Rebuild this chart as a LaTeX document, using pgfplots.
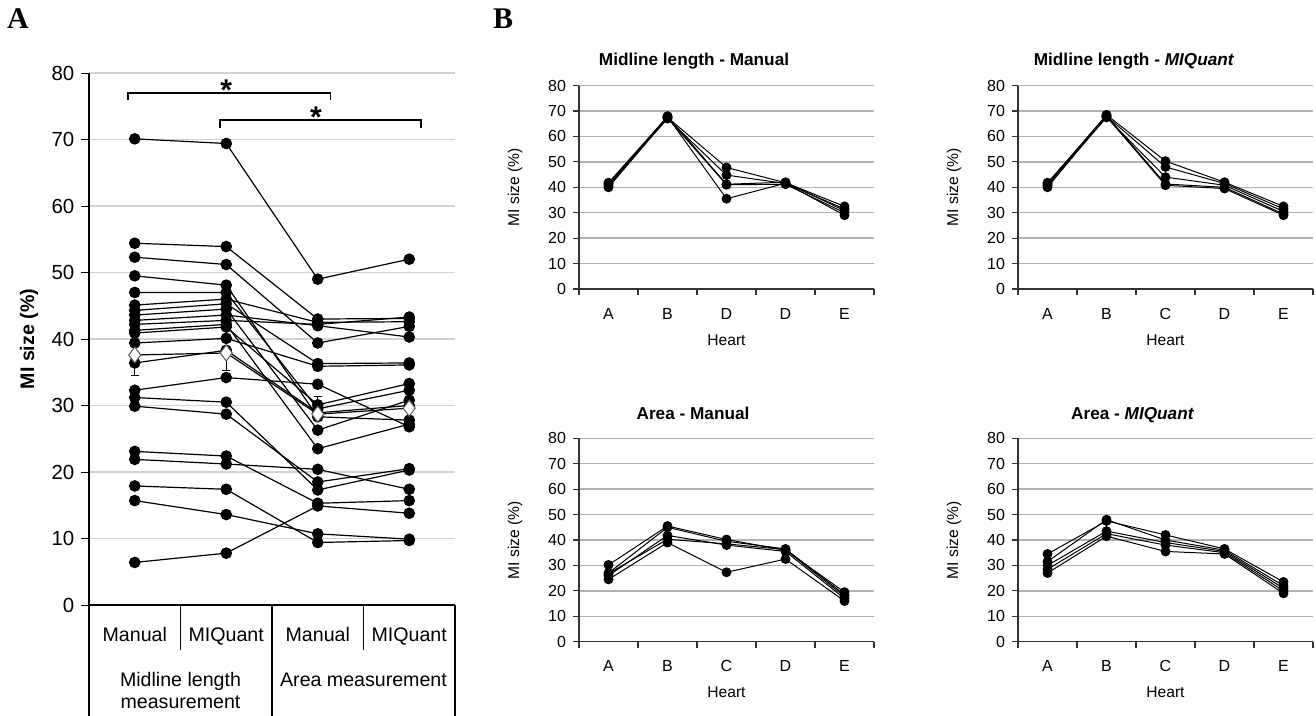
\documentclass[border=0pt]{standalone}
\usepackage{fontspec}
\setmainfont{Liberation Sans}
\newfontfamily\panelfont{Liberation Serif}
\usepackage{pgfplots}
\pgfplotsset{compat=1.18}

\pgfplotsset{
  panelB/.style={
    anchor=south west, scale only axis, width=147.5pt, height=101.7pt,
    xmin=-0.5, xmax=4.5, ymin=0, ymax=80, ytick={0,10,...,80},
    xtick={-0.5,0.5,1.5,2.5,3.5,4.5}, xticklabels={,,,,,},
    extra x ticks={0,1,2,3,4},
    extra x tick style={major tick length=0pt, grid=none},
    axis x line*=bottom, axis y line*=left,
    axis line style={line width=0.6pt, black!80},
    ymajorgrids, grid style={draw=gray!60, line width=0.7pt},
    tick align=outside, major tick length=3pt,
    tick style={black!80, line width=0.6pt},
    tick label style={font=\fontsize{8}{9}\selectfont},
    xticklabel style={yshift=-6pt},
    xlabel={Heart}, ylabel={MI size (\%)},
    label style={font=\fontsize{7.8}{9}\selectfont},
    xlabel style={at={(axis description cs:0.5,0)}, anchor=center, yshift=-25.5pt},
    ylabel style={at={(axis description cs:0,0.5)}, anchor=center, yshift=32pt},
    cycle list={black, line width=0.5pt, mark=*, mark size=2.2pt, mark options={solid, fill=black}\\},
    /pgf/number format/assume math mode=true,
  },
}

\begin{document}
\begin{tikzpicture}[x=1pt,y=1pt]
\useasboundingbox (0,0) rectangle (658,-358);

% ---------- panel A ----------
\begin{axis}[
  at={(44.5pt,-302.5pt)}, anchor=south west, scale only axis,
  width=183pt, height=266pt,
  xmin=-0.5, xmax=3.5, ymin=0, ymax=80,
  ytick={0,10,...,80}, xtick=\empty,
  axis x line*=bottom, axis y line*=left,
  axis line style={line width=0.6pt, black},
  ymajorgrids, grid style={draw=gray!35, line width=0.6pt},
  ytick align=outside, major tick length=3.8pt,
  tick style={black, line width=0.5pt},
  tick label style={font=\fontsize{10.2}{11}\selectfont},
  ylabel={\bfseries MI size (\%)},
  label style={font=\fontsize{9.8}{11}\selectfont},
  ylabel style={at={(axis description cs:0,0.5)}, anchor=center, yshift=30pt},
  clip=false,
  /pgf/number format/assume math mode=true,
  cycle list={black, line width=0.6pt, mark=*, mark size=2.6pt, mark options={solid, fill=black}\\},
]
\addplot coordinates {(0,70.1)(1,69.4)(2,49.0)(3,52.0)};
\addplot coordinates {(0,54.4)(1,53.9)(2,43.0)(3,43.1)};
\addplot coordinates {(0,52.3)(1,51.2)(2,39.4)(3,41.9)};
\addplot coordinates {(0,49.5)(1,48.1)(2,28.3)(3,27.8)};
\addplot coordinates {(0,47.0)(1,47.0)(2,29.5)(3,32.3)};
\addplot coordinates {(0,45.1)(1,46.0)(2,42.5)(3,42.6)};
\addplot coordinates {(0,44.3)(1,45.3)(2,36.3)(3,36.4)};
\addplot coordinates {(0,43.6)(1,44.5)(2,26.3)(3,30.8)};
\addplot coordinates {(0,42.8)(1,43.6)(2,42.0)(3,40.3)};
\addplot coordinates {(0,42.2)(1,42.8)(2,42.2)(3,43.3)};
\addplot coordinates {(0,41.3)(1,42.2)(2,23.5)(3,27.2)};
\addplot coordinates {(0,40.9)(1,41.8)(2,30.1)(3,33.3)};
\addplot coordinates {(0,39.4)(1,40.1)(2,35.9)(3,36.1)};
\addplot coordinates {(0,36.4)(1,38.3)(2,28.9)(3,30.0)};
\addplot coordinates {(0,32.3)(1,34.2)(2,33.2)(3,26.8)};
\addplot coordinates {(0,31.2)(1,30.5)(2,17.3)(3,20.3)};
\addplot coordinates {(0,29.9)(1,28.7)(2,18.5)(3,20.5)};
\addplot coordinates {(0,23.1)(1,22.4)(2,15.3)(3,15.7)};
\addplot coordinates {(0,21.9)(1,21.2)(2,20.4)(3,17.4)};
\addplot coordinates {(0,17.9)(1,17.4)(2,9.4)(3,9.7)};
\addplot coordinates {(0,15.7)(1,13.6)(2,10.7)(3,9.9)};
\addplot coordinates {(0,6.4)(1,7.8)(2,14.9)(3,13.8)};
% means with SEM
\addplot[black, line width=0.6pt, mark=diamond*, mark size=4pt,
  mark options={solid, fill=white, draw=gray!70!black, line width=0.5pt},
  error bars/.cd, y dir=both, y explicit,
  error bar style={line width=0.6pt, black}, error mark options={rotate=90, mark size=2pt, black}]
  coordinates {(0,37.6) += (0,0) -= (0,3.1)
               (1,37.9) += (0,0) -= (0,2.6)
               (2,28.7) += (0,2.6) -= (0,0)
               (3,29.6) += (0,0) -= (0,0)};
% significance brackets
\draw[line width=0.9pt] (axis cs:-0.07,75.9) -- (axis cs:-0.07,77.0) -- (axis cs:2.14,77.0) -- (axis cs:2.14,75.9);
\draw[line width=0.9pt] (axis cs:0.93,71.8) -- (axis cs:0.93,72.9) -- (axis cs:3.13,72.9) -- (axis cs:3.13,71.8);
\node[anchor=base, inner sep=0pt, font=\fontsize{15}{15}\selectfont\bfseries] at (axis cs:1.0,75.9) {*};
\node[anchor=base, inner sep=0pt, font=\fontsize{15}{15}\selectfont\bfseries] at (axis cs:1.98,71.8) {*};
\end{axis}

% category table under panel A
\draw[line width=0.6pt] (44.5,-302.5) -- (44.5,-358);
\draw[line width=0.6pt] (90.25,-302.5) -- (90.25,-325);
\draw[line width=0.6pt] (136,-302.5) -- (136,-358);
\draw[line width=0.6pt] (181.75,-302.5) -- (181.75,-325);
\draw[line width=0.6pt] (227.5,-302.5) -- (227.5,-358);
\begin{scope}[every node/.style={font=\fontsize{9.8}{11}\selectfont, inner sep=0pt, anchor=base}]
\node at (67.4,-320.8) {Manual};
\node at (113.1,-320.8) {MIQuant};
\node at (158.9,-320.8) {Manual};
\node at (204.6,-320.8) {MIQuant};
\node at (90.25,-343.3) {Midline length};
\node at (90.25,-354) {measurement};
\node at (181.75,-343.3) {Area measurement};
\end{scope}

% ---------- panel B ----------
\begin{axis}[panelB, at={(289.5pt,-144.5pt)}, extra x tick labels={A,B,D,D,E}]
\addplot coordinates {(0,41.5)(1,67.5)(2,47.8)(3,41.8)(4,32.5)};
\addplot coordinates {(0,41.0)(1,67.0)(2,44.8)(3,41.5)(4,31.5)};
\addplot coordinates {(0,40.5)(1,68.0)(2,41.2)(3,42.0)(4,30.8)};
\addplot coordinates {(0,40.0)(1,67.3)(2,41.0)(3,41.2)(4,30.0)};
\addplot coordinates {(0,41.8)(1,67.8)(2,35.5)(3,41.6)(4,29.0)};
\end{axis}

\begin{axis}[panelB, at={(509pt,-144.5pt)}, extra x tick labels={A,B,C,D,E}]
\addplot coordinates {(0,41.5)(1,68.5)(2,50.3)(3,42.0)(4,32.5)};
\addplot coordinates {(0,41.0)(1,68.0)(2,48.0)(3,41.5)(4,31.5)};
\addplot coordinates {(0,40.5)(1,67.5)(2,44.0)(3,40.8)(4,30.5)};
\addplot coordinates {(0,40.0)(1,68.2)(2,41.3)(3,40.0)(4,29.5)};
\addplot coordinates {(0,41.8)(1,67.8)(2,40.8)(3,39.5)(4,29.0)};
\end{axis}

\begin{axis}[panelB, at={(289.5pt,-320.85pt)}, extra x tick labels={A,B,C,D,E}]
\addplot coordinates {(0,30.2)(1,45.5)(2,40.2)(3,36.0)(4,19.5)};
\addplot coordinates {(0,27.0)(1,45.0)(2,39.5)(3,36.5)(4,18.5)};
\addplot coordinates {(0,26.0)(1,41.8)(2,38.0)(3,35.5)(4,17.0)};
\addplot coordinates {(0,24.5)(1,39.0)(2,27.3)(3,32.5)(4,16.0)};
\addplot coordinates {(0,26.8)(1,40.3)(2,38.5)(3,36.2)(4,17.8)};
\end{axis}

\begin{axis}[panelB, at={(509pt,-320.85pt)}, extra x tick labels={A,B,C,D,E}]
\addplot coordinates {(0,34.5)(1,47.5)(2,42.0)(3,36.5)(4,23.5)};
\addplot coordinates {(0,31.5)(1,48.0)(2,40.0)(3,36.0)(4,22.0)};
\addplot coordinates {(0,30.0)(1,43.5)(2,39.0)(3,35.5)(4,21.0)};
\addplot coordinates {(0,28.5)(1,42.5)(2,38.0)(3,35.0)(4,20.0)};
\addplot coordinates {(0,27.0)(1,41.5)(2,35.5)(3,34.5)(4,19.0)};
\end{axis}

% subplot titles
\begin{scope}[every node/.style={font=\fontsize{8.6}{10}\selectfont\bfseries, inner sep=0pt, anchor=base}]
\node at (347,-33) {Midline length - Manual};
\node at (567,-33) {Midline length - \textit{MIQuant}};
\node at (346.5,-209.5) {Area - Manual};
\node at (566.3,-209.5) {Area - \textit{MIQuant}};
\end{scope}

% panel letters
\node[font=\panelfont\fontsize{15}{15}\selectfont\bfseries, inner sep=0pt] at (9,-9.5) {A};
\node[font=\panelfont\fontsize{15}{15}\selectfont\bfseries, inner sep=0pt] at (251.5,-9.5) {B};
\end{tikzpicture}
\end{document}
